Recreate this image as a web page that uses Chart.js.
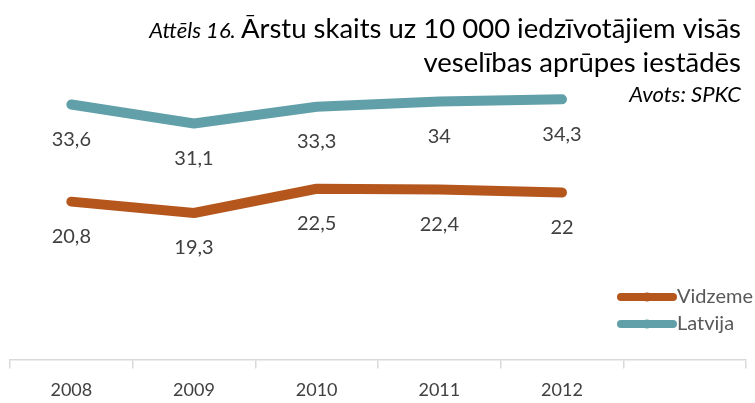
<!DOCTYPE html>
<html>
<head>
<meta charset="utf-8">
<script src="https://cdn.jsdelivr.net/npm/chart.js@4.4.1/dist/chart.umd.min.js"></script>
<style>
  html, body { margin: 0; padding: 0; background: #fff; }
  #wrap { width: 755px; height: 403px; position: relative; }
</style>
</head>
<body>
<div id="wrap"><canvas id="chart"></canvas></div>
<script>
// --- Dati ---
const years = ['2008', '2009', '2010', '2011', '2012', ''];
const vidzeme = [20.8, 19.3, 22.5, 22.4, 22.0];
const latvija = [33.6, 31.1, 33.3, 34.0, 34.3];
const vidzemeLabels = ['20,8', '19,3', '22,5', '22,4', '22'];
const latvijaLabels = ['33,6', '31,1', '33,3', '34', '34,3'];

const orange = '#b5561c';
const teal = '#61a0a8';
const textGray = '#404040';
const FONT = 'Lato, "Open Sans", sans-serif';

// --- Virsraksts, vērtību etiķetes un leģenda ---
const decorPlugin = {
    id: 'decor',
    afterDatasetsDraw(chart) {
        const c = chart.ctx;
        c.save();

        // vērtību etiķetes zem punktiem
        c.fillStyle = textGray;
        c.font = '20px ' + FONT;
        c.textAlign = 'center';
        c.textBaseline = 'middle';
        chart.data.datasets.forEach((ds, i) => {
            chart.getDatasetMeta(i).data.forEach((pt, j) => {
                c.fillText(ds.valueLabels[j], pt.x, pt.y + 35);
            });
        });

        // virsraksts
        const right = 741;
        c.textAlign = 'right';
        c.textBaseline = 'alphabetic';
        c.fillStyle = '#000';
        c.font = '27.5px ' + FONT;
        const main = 'Ārstu skaits uz 10 000 iedzīvotājiem visās';
        c.fillText(main, right, 38);
        const w = c.measureText(main).width;
        c.font = 'italic 22px ' + FONT;
        c.fillText('Attēls 16. ', right - w, 38);
        c.font = '27.5px ' + FONT;
        c.fillText('veselības aprūpes iestādēs', right, 72);
        c.font = 'italic 22px ' + FONT;
        c.fillText('Avots: SPKC', right, 102);

        // leģenda
        const items = [
            { label: 'Vidzeme', color: orange, y: 297 },
            { label: 'Latvija', color: teal, y: 324 }
        ];
        items.forEach(it => {
            c.strokeStyle = it.color;
            c.lineWidth = 8;
            c.lineCap = 'round';
            c.beginPath();
            c.moveTo(621, it.y);
            c.lineTo(673, it.y);
            c.stroke();
            c.fillStyle = it.color;
            c.beginPath();
            c.arc(647, it.y, 4.5, 0, Math.PI * 2);
            c.fill();
            c.fillStyle = '#595959';
            c.font = '20px ' + FONT;
            c.textAlign = 'left';
            c.textBaseline = 'middle';
            c.fillText(it.label, 677, it.y);
        });
        c.restore();
    }
};

const ctx = document.getElementById('chart').getContext('2d');
const chart = new Chart(ctx, {
    type: 'line',
    data: {
        labels: years,
        datasets: [{
            label: 'Vidzeme',
            data: vidzeme,
            valueLabels: vidzemeLabels,
            borderColor: orange,
            backgroundColor: orange,
            borderWidth: 10,
            borderCapStyle: 'round',
            borderJoinStyle: 'round',
            pointRadius: 0,
            tension: 0
        }, {
            label: 'Latvija',
            data: latvija,
            valueLabels: latvijaLabels,
            borderColor: teal,
            backgroundColor: teal,
            borderWidth: 10,
            borderCapStyle: 'round',
            borderJoinStyle: 'round',
            pointRadius: 0,
            tension: 0
        }]
    },
    options: {
        responsive: true,
        maintainAspectRatio: false,
        animation: false,
        layout: { padding: { top: 56, left: 10, right: 9, bottom: -9 } },
        plugins: {
            legend: { display: false },
            tooltip: { enabled: false }
        },
        scales: {
            x: {
                offset: true,
                grid: {
                    offset: true,
                    drawOnChartArea: false,
                    color: '#d9d9d9',
                    tickLength: 9,
                    lineWidth: 1.5
                },
                border: { color: '#d9d9d9', width: 1.5 },
                ticks: {
                    color: textGray,
                    font: { family: FONT, size: 18 },
                    padding: 11,
                    maxRotation: 0
                }
            },
            y: {
                display: false,
                min: 0,
                max: 40
            }
        }
    },
    plugins: [decorPlugin]
});
</script>
</body>
</html>
